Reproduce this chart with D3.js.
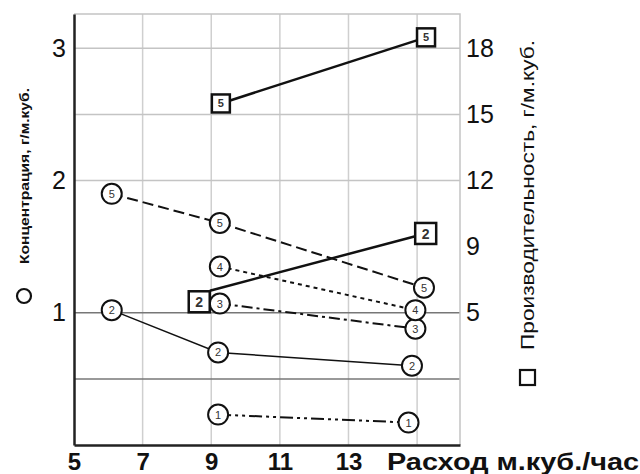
<!DOCTYPE html>
<html>
<head>
<meta charset="utf-8">
<script src="https://cdn.jsdelivr.net/npm/d3@7"></script>
<style>
  body { margin: 0; background: #fff; }
  svg { font-family: "Liberation Sans", Arial, sans-serif; }
</style>
</head>
<body>
<script>
// flow (m3/h) vs concentration (left axis), one array per numbered series
var conc1 = [[9.2, 0.23], [14.75, 0.17]];
var conc2 = [[6.1, 1.02], [9.2, 0.70], [14.85, 0.60]];
var conc3 = [[9.25, 1.07], [14.95, 0.88]];
var conc4 = [[9.25, 1.35], [14.95, 1.02]];
var conc5 = [[6.1, 1.90], [9.25, 1.68], [15.2, 1.19]];

// flow vs productivity (right axis)
var prod2 = [[8.65, 6.5], [15.25, 9.6]];
var prod2Line = [[8.96, 7.0], [15.25, 9.6]];
var prod5 = [[9.28, 15.5], [15.26, 18.5]];

var xTicks = [5, 7, 9, 11, 13];
var xGrid = [7, 9, 11, 13, 15];
var yTicks = [1, 2, 3];
var yGridLight = [2, 2.5, 3];
var yGridDark = [0.5, 1];
var rightTickValues = [6, 9, 12, 15, 18];
var rightTickLabels = ['5', '9', '12', '15', '18'];

window.onload = drawChart();

function drawChart(){

    var width = 640, height = 474;
    var pLeft = 74, pRight = 460, pTop = 14, pBottom = 445;

    var svg = d3.select('body').append('svg')
        .attr('width', width)
        .attr('height', height);

    var x = d3.scaleLinear().domain([5, 16.25]).range([pLeft, pRight]);
    var y = d3.scaleLinear().domain([0, 3.26]).range([pBottom, pTop]);
    var yR = d3.scaleLinear().domain([0, 3.26 * 6]).range([pBottom, pTop]);

    //grid
    var grid = svg.append('g');
    grid.selectAll('.vg').data(xGrid).enter().append('line')
        .attr('x1', d => x(d)).attr('x2', d => x(d))
        .attr('y1', pTop).attr('y2', pBottom)
        .attr('stroke', '#cfcfcf').attr('stroke-width', 1.5);
    grid.selectAll('.hg').data(yGridLight).enter().append('line')
        .attr('x1', pLeft).attr('x2', pRight)
        .attr('y1', d => y(d)).attr('y2', d => y(d))
        .attr('stroke', '#c4c4c4').attr('stroke-width', 1.5);
    grid.selectAll('.hd').data(yGridDark).enter().append('line')
        .attr('x1', pLeft).attr('x2', pRight)
        .attr('y1', d => y(d)).attr('y2', d => y(d))
        .attr('stroke', '#777').attr('stroke-width', 1.5);
    //frame top and right
    grid.append('path')
        .attr('d', 'M' + pLeft + ',' + pTop + 'H' + pRight + 'V' + pBottom)
        .attr('fill', 'none').attr('stroke', '#c4c4c4').attr('stroke-width', 1.5);

    //axes
    var xAxis = svg.append('g')
        .attr('transform', 'translate(0,' + pBottom + ')')
        .call(d3.axisBottom(x).tickValues(xTicks).tickSize(0).tickPadding(8));
    xAxis.select('.domain').attr('stroke', '#222').attr('stroke-width', 2.5);
    xAxis.selectAll('text')
        .attr('font-size', 24).attr('font-weight', 'bold').attr('fill', '#111')
        .attr('font-family', 'Liberation Sans, Arial, sans-serif');

    var yAxis = svg.append('g')
        .attr('transform', 'translate(' + pLeft + ',0)')
        .call(d3.axisLeft(y).tickValues(yTicks).tickSize(0).tickPadding(8)
            .tickFormat(d3.format('d')));
    yAxis.select('.domain').attr('stroke', '#222').attr('stroke-width', 2.5);
    yAxis.selectAll('text')
        .attr('font-size', 25).attr('fill', '#111')
        .attr('font-family', 'Liberation Sans, Arial, sans-serif');

    var rAxis = svg.append('g')
        .attr('transform', 'translate(' + pRight + ',0)')
        .call(d3.axisRight(yR).tickValues(rightTickValues).tickSize(0).tickPadding(6)
            .tickFormat((d, i) => rightTickLabels[i]));
    rAxis.select('.domain').remove();
    rAxis.selectAll('text')
        .attr('font-size', 25).attr('fill', '#111')
        .attr('font-family', 'Liberation Sans, Arial, sans-serif');

    //axis titles
    svg.append('text')
        .attr('x', 387).attr('y', 470)
        .attr('font-size', 24).attr('font-weight', 'bold').attr('fill', '#111')
        .attr('textLength', 252).attr('lengthAdjust', 'spacingAndGlyphs')
        .text('Расход м.куб./час');

    svg.append('circle')
        .attr('cx', 24).attr('cy', 296).attr('r', 7)
        .attr('fill', 'none').attr('stroke', '#111').attr('stroke-width', 2.2);
    svg.append('text')
        .attr('transform', 'translate(29,264) rotate(-90)')
        .attr('font-size', 13).attr('font-weight', 'bold').attr('fill', '#111')
        .attr('textLength', 176).attr('lengthAdjust', 'spacingAndGlyphs')
        .text('Концентрация, г/м.куб.');

    svg.append('rect')
        .attr('x', 520).attr('y', 370).attr('width', 15).attr('height', 15)
        .attr('fill', 'none').attr('stroke', '#111').attr('stroke-width', 2.2);
    svg.append('text')
        .attr('transform', 'translate(534,350) rotate(-90)')
        .attr('font-size', 19).attr('fill', '#111')
        .attr('textLength', 310).attr('lengthAdjust', 'spacingAndGlyphs')
        .text('Производительность, г/м.куб.');

    //lines
    var lineL = d3.line().x(d => x(d[0])).y(d => y(d[1]));
    var lineR = d3.line().x(d => x(d[0])).y(d => yR(d[1]));

    var concSeries = [
        {data: conc1, label: '1', dash: '13,4,3,4,3,4', w: 2},
        {data: conc2, label: '2', dash: null, w: 1.5},
        {data: conc3, label: '3', dash: '11,4,3,4', w: 2},
        {data: conc4, label: '4', dash: '4,4', w: 2},
        {data: conc5, label: '5', dash: '11,5', w: 2}
    ];
    var prodSeries = [
        {data: prod2, line: prod2Line, label: '2', size: 21, fs: 14},
        {data: prod5, line: prod5, label: '5', size: 18, fs: 11}
    ];

    concSeries.forEach(function(s){
        svg.append('path')
            .attr('d', lineL(s.data))
            .attr('fill', 'none').attr('stroke', '#111')
            .attr('stroke-width', s.w)
            .attr('stroke-dasharray', s.dash);
    });
    prodSeries.forEach(function(s){
        svg.append('path')
            .attr('d', lineR(s.line))
            .attr('fill', 'none').attr('stroke', '#111')
            .attr('stroke-width', 2.5);
    });

    //markers
    concSeries.forEach(function(s){
        var g = svg.append('g');
        g.selectAll('circle').data(s.data).enter().append('circle')
            .attr('cx', d => x(d[0])).attr('cy', d => y(d[1])).attr('r', 10)
            .attr('fill', '#fff').attr('stroke', '#111').attr('stroke-width', 2);
        g.selectAll('text').data(s.data).enter().append('text')
            .attr('x', d => x(d[0])).attr('y', d => y(d[1]) + 4)
            .attr('text-anchor', 'middle').attr('font-size', 11).attr('fill', '#333')
            .text(s.label);
    });
    prodSeries.forEach(function(s){
        var g = svg.append('g');
        g.selectAll('rect').data(s.data).enter().append('rect')
            .attr('x', d => x(d[0]) - s.size / 2).attr('y', d => yR(d[1]) - s.size / 2)
            .attr('width', s.size).attr('height', s.size)
            .attr('fill', '#fff').attr('stroke', '#111').attr('stroke-width', 2.5);
        g.selectAll('text').data(s.data).enter().append('text')
            .attr('x', d => x(d[0])).attr('y', d => yR(d[1]) + s.fs * 0.36)
            .attr('text-anchor', 'middle').attr('font-size', s.fs)
            .attr('font-weight', 'bold').attr('fill', '#333')
            .text(s.label);
    });
}
</script>
</body>
</html>
